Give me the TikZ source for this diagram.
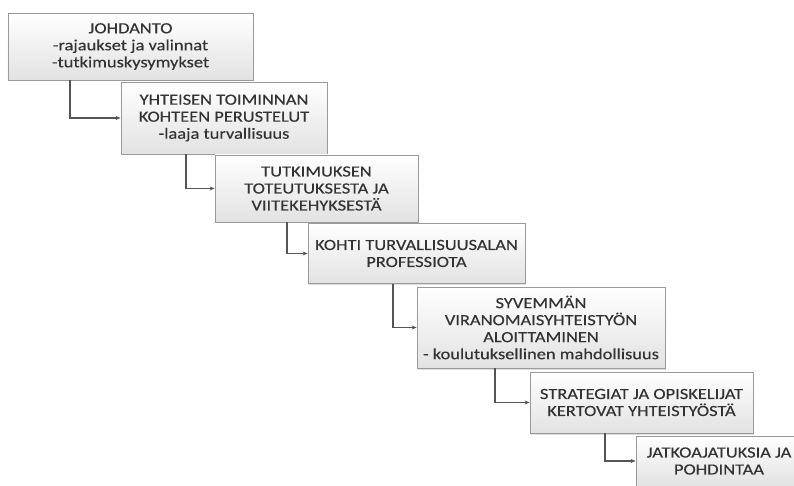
\documentclass[tikz,border=0pt]{standalone}
\usepackage{fontspec}
\setmainfont{Carlito}[FakeStretch=1.19,FakeBold=0.35]
\usetikzlibrary{arrows.meta,shadows}
\definecolor{boxline}{HTML}{9A9A9A}
\definecolor{boxbottom}{HTML}{E2E2E2}
\definecolor{txt}{HTML}{333333}
\definecolor{wire}{HTML}{555555}
\tikzset{
  stagebox/.style={draw=boxline, line width=0.8bp, top color=white, bottom color=boxbottom,
    inner sep=0pt, align=center, text=txt,
    font=\fontsize{15.5bp}{17bp}\selectfont,
    drop shadow={opacity=0.25, shadow xshift=1bp, shadow yshift=-1.5bp}},
  wirearrow/.style={draw=wire, line width=1.1bp, -{Stealth[length=5bp,width=4bp]}}
}
\begin{document}
\begin{tikzpicture}[x=1bp,y=-1bp]
\useasboundingbox (0,0) rectangle (794,486);
% stages, stepping down to the right
\node[stagebox, minimum width=245bp, minimum height=67bp] (b1) at (130.5,46.5)
  {JOHDANTO\\-rajaukset ja valinnat\\-tutkimuskysymykset};
\node[stagebox, minimum width=206bp, minimum height=72bp] (b2) at (224,118)
  {YHTEISEN TOIMINNAN\\KOHTEEN PERUSTELUT\\-laaja turvallisuus};
\node[stagebox, minimum width=203bp, minimum height=67bp] (b3) at (316.5,188.5)
  {TUTKIMUKSEN\\TOTEUTUKSESTA JA\\VIITEKEHYKSESTÄ};
\node[stagebox, minimum width=217bp, minimum height=60bp] (b4) at (416.5,253.5)
  {KOHTI TURVALLISUUSALAN\\PROFESSIOTA};
\node[stagebox, minimum width=248bp, minimum height=81bp] (b5) at (541,327.5)
  {SYVEMMÄN\\VIRANOMAISYHTEISTYÖN\\ALOITTAMINEN\\- koulutuksellinen mahdollisuus};
\node[stagebox, minimum width=223bp, minimum height=61bp] (b6) at (641.5,402.5)
  {STRATEGIAT JA OPISKELIJAT\\KERTOVAT YHTEISTYÖSTÄ};
\node[stagebox, minimum width=166bp, minimum height=50bp] (b7) at (719,461)
  {JATKOAJATUKSIA JA\\POHDINTAA};
% x positions of the vertical drops
\coordinate (k1) at (70,0);
\coordinate (k2) at (186,0);
\coordinate (k3) at (287,0);
\coordinate (k4) at (393,0);
\coordinate (k5) at (495,0);
\coordinate (k6) at (605,0);
% elbow connectors
\draw[wirearrow] (b1.south -| k1) |- (b2.west);
\draw[wirearrow] (b2.south -| k2) |- (b3.west);
\draw[wirearrow] (b3.south -| k3) |- (b4.west);
\draw[wirearrow] (b4.south -| k4) |- (b5.west);
\draw[wirearrow] (b5.south -| k5) |- (b6.west);
\draw[wirearrow] (b6.south -| k6) |- (b7.west);
\end{tikzpicture}
\end{document}
